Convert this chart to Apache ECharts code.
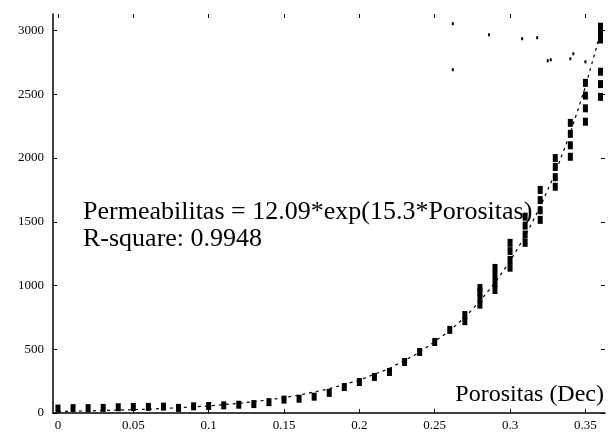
<!DOCTYPE html>
<html><head><meta charset="utf-8">
<script src="https://cdn.jsdelivr.net/npm/echarts@6/dist/echarts.min.js"></script>
<style>html,body{margin:0;padding:0;background:#fff}#c{width:610px;height:433px}</style>
</head><body><div id="c"></div>
<script>
// Measured samples (porosity, permeability)
const porosity = [
  0.00,0.01,0.02,0.03,0.04,0.05,0.06,0.07,0.08,0.09,0.10,0.11,0.12,0.13,0.14,0.15,0.16,0.17,0.18,
  0.19,0.20,0.21,0.22,0.23,0.24,0.25,0.26,0.27,0.27,
  0.28,0.28,0.28,0.28,
  0.29,0.29,0.29,0.29,
  0.30,0.30,0.30,0.30,
  0.31,0.31,0.31,0.31,
  0.32,0.32,0.32,0.32,
  0.33,0.33,0.33,0.33,
  0.34,0.34,0.34,0.34,
  0.35,0.35,0.35,0.35,
  0.36,0.36,0.36,0.36,0.36,0.36
];
const permeability = [
  35,38,38,40,45,47,48,50,40,52,55,60,65,70,85,105,112,128,158,
  204,243,283,322,400,479,557,652,769,720,
  850,900,950,980,
  965,1020,1080,1138,
  1140,1200,1270,1335,
  1335,1400,1470,1540,
  1515,1590,1670,1750,
  1775,1850,1930,2000,
  2010,2100,2190,2276,
  2285,2390,2490,2590,
  2480,2580,2677,2930,2980,3030
];
// scattered high samples
const outlierPorosity = [0.262,0.286,0.308,0.318,0.325,0.327,0.340,0.342,0.350,0.262];
const outlierPermeability = [3054,2967,2936,2944,2763,2771,2779,2818,2755,2693];
// Fitted curve: Permeabilitas = 12.09*exp(15.3*Porositas)
const fitPorosity = [0.00,0.02,0.04,0.06,0.08,0.10,0.12,0.14,0.16,0.18,0.20,0.22,0.24,0.26,0.27,0.28,0.29,0.30,0.31,0.32,0.33,0.34,0.35,0.36];
const fitPermeability = [12.1,16.4,22.3,30.3,41.1,55.8,75.8,103,140,190,258,350,476,646,752,877,1022,1191,1388,1617,1885,2196,2560,2982];
// Tick labels
const xTicks = [0,0.05,0.1,0.15,0.2,0.25,0.3,0.35];
const xTickLabels = ['0','0.05','0.1','0.15','0.2','0.25','0.3','0.35'];
const yTicks = [0,500,1000,1500,2000,2500,3000];
const yTickLabels = ['0','500','1000','1500','2000','2500','3000'];

function lab(ticks, labels){
  return v => { for (let i=0;i<ticks.length;i++){ if (Math.abs(ticks[i]-v) < 1e-6*Math.max(1,Math.abs(v))) return labels[i]; } return ''; };
}
const F = 'Liberation Serif, Times New Roman, serif';
const chart = echarts.init(document.getElementById('c'));
const xBase = {type:'value', min:-0.0033, max:0.363, splitLine:{show:false}};
const yBase = {type:'value', min:0, max:3130, splitLine:{show:false}};
chart.setOption({
  animation:false,
  backgroundColor:'#fff',
  grid:{left:53, right:5, top:14, bottom:20, containLabel:false},
  xAxis:[
    Object.assign({}, xBase, {position:'bottom',
      axisLine:{show:true, onZero:false, lineStyle:{color:'#000', width:1.5}},
      axisTick:{show:true, inside:true, length:4, customValues:xTicks, lineStyle:{color:'#000'}},
      axisLabel:{show:true, customValues:xTicks, formatter:lab(xTicks,xTickLabels), color:'#000', fontFamily:F, fontSize:13, margin:6}}),
    Object.assign({}, xBase, {position:'top',
      axisLine:{show:false, onZero:false},
      axisTick:{show:true, inside:true, length:4, customValues:xTicks, lineStyle:{color:'#000'}},
      axisLabel:{show:false}})
  ],
  yAxis:[
    Object.assign({}, yBase, {position:'left',
      axisLine:{show:true, onZero:false, lineStyle:{color:'#000', width:1.5}},
      axisTick:{show:true, inside:true, length:4, customValues:yTicks, lineStyle:{color:'#000'}},
      axisLabel:{show:true, customValues:yTicks, formatter:lab(yTicks,yTickLabels), color:'#000', fontFamily:F, fontSize:13, margin:9}}),
    Object.assign({}, yBase, {position:'right',
      axisLine:{show:false, onZero:false},
      axisTick:{show:true, inside:true, length:4, customValues:yTicks, lineStyle:{color:'#000'}},
      axisLabel:{show:false}})
  ],
  series:[
    {type:'line', xAxisIndex:0, yAxisIndex:0, data:fitPorosity.map((x,i)=>[x,fitPermeability[i]]),
     showSymbol:false, symbol:'none', lineStyle:{color:'#000', width:1.2, type:[3,4]}, z:2},
    {type:'scatter', xAxisIndex:0, yAxisIndex:0, data:porosity.map((x,i)=>[x,permeability[i]]),
     symbol:'rect', symbolSize:[5,8], itemStyle:{color:'#000', opacity:1}, z:3},
    {type:'scatter', xAxisIndex:0, yAxisIndex:0, data:outlierPorosity.map((x,i)=>[x,outlierPermeability[i]]),
     symbol:'rect', symbolSize:[2,3], itemStyle:{color:'#000', opacity:1}, z:3}
  ],
  graphic:[
    {type:'text', left:83, top:199, style:{text:'Permeabilitas = 12.09*exp(15.3*Porositas)\nR-square: 0.9948', fill:'#000', font:'26px '+F, lineHeight:27}},
    {type:'text', right:6, top:383, style:{text:'Porositas (Dec)', fill:'#000', font:'24px '+F}}
  ]
});
</script></body></html>
